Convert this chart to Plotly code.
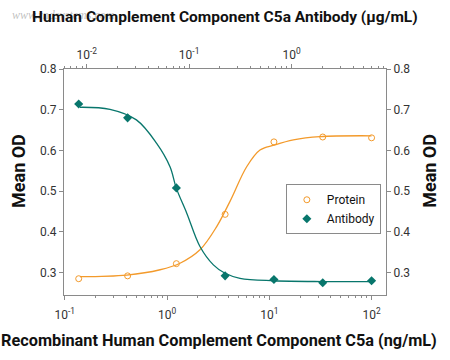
import plotly.graph_objects as go

# ---- data ----
conc_ng = [0.137, 0.412, 1.235, 3.70, 11.1, 33.3, 100.0]
protein_od = [0.285, 0.292, 0.322, 0.443, 0.621, 0.633, 0.631]
antibody_od = [0.714, 0.680, 0.508, 0.292, 0.283, 0.275, 0.280]

# fitted curves
protein_fit_x = [0.141, 0.404, 0.855, 1.34, 2.10, 3.06, 4.13, 6.01, 8.11, 11.1, 17.2, 31.3, 100.0]
protein_fit_y = [0.290, 0.294, 0.307, 0.323, 0.356, 0.413, 0.475, 0.560, 0.601, 0.613, 0.626, 0.634, 0.636]
antibody_fit_x = [0.141, 0.277, 0.502, 0.789, 1.07, 1.23, 1.56, 2.10, 2.84, 3.66, 5.17, 11.1, 33.3, 100.0]
antibody_fit_y = [0.706, 0.701, 0.675, 0.618, 0.560, 0.508, 0.446, 0.364, 0.319, 0.299, 0.286, 0.280, 0.278, 0.278]

bottom_ticks = [0.1, 1, 10, 100]
bottom_labels = ["10<sup>-1</sup>", "10<sup>0</sup>", "10<sup>1</sup>", "10<sup>2</sup>"]
top_ticks = [0.01, 0.1, 1]
top_labels = ["10<sup>-2</sup>", "10<sup>-1</sup>", "10<sup>0</sup>"]
y_ticks = [0.3, 0.4, 0.5, 0.6, 0.7, 0.8]
y_labels = ["0.3", "0.4", "0.5", "0.6", "0.7", "0.8"]

bottom_title = "Recombinant Human Complement Component C5a (ng/mL)"
top_title = "Human Complement Component C5a Antibody (μg/mL)"
y_title = "Mean OD"

ORANGE = "#F39A2B"
TEAL = "#08766C"
AXIS = "#8a8a8a"
FONT = "Roboto, Liberation Sans, sans-serif"

def minor_vals(lo, hi):
    out = []
    for e in range(lo, hi + 1):
        for m in range(2, 10):
            out.append(m * 10.0 ** e)
    return out

fig = go.Figure()
fig.add_trace(go.Scatter(x=protein_fit_x, y=protein_fit_y, mode="lines",
                         line=dict(color=ORANGE, width=1.3, shape="spline"),
                         showlegend=False, hoverinfo="skip"))
fig.add_trace(go.Scatter(x=antibody_fit_x, y=antibody_fit_y, mode="lines",
                         line=dict(color=TEAL, width=1.3, shape="spline"),
                         showlegend=False, hoverinfo="skip"))
fig.add_trace(go.Scatter(x=conc_ng, y=protein_od, mode="markers", name="Protein",
                         marker=dict(symbol="circle-open", size=6, color=ORANGE,
                                     line=dict(width=1, color=ORANGE))))
fig.add_trace(go.Scatter(x=conc_ng, y=antibody_od, mode="markers", name="Antibody",
                         marker=dict(symbol="diamond", size=7, color=TEAL)))
# dummy trace to carry the top / right axes
fig.add_trace(go.Scatter(x=[None], y=[None], xaxis="x2", yaxis="y2",
                         showlegend=False, hoverinfo="skip"))

tickfont = dict(family=FONT, size=12, color="#333333")
common = dict(ticks="outside", ticklen=4, tickcolor=AXIS, showline=True, linecolor=AXIS,
              linewidth=1, showgrid=False, zeroline=False, tickfont=tickfont, automargin=False)

fig.update_layout(
    width=450, height=360,
    margin=dict(l=64, r=64, t=69, b=65),
    paper_bgcolor="white", plot_bgcolor="white",
    font=dict(family=FONT, color="#222222"),
    xaxis=dict(type="log", range=[-1.007, 2.141], tickvals=bottom_ticks, ticktext=bottom_labels,
               ticklabelstandoff=5,
               minor=dict(tickvals=minor_vals(-1, 2), ticks="outside", ticklen=2,
                          tickcolor=AXIS, showgrid=False), **common),
    xaxis2=dict(type="log", range=[-2.222, 0.923], overlaying="x", side="top",
                tickvals=top_ticks, ticktext=top_labels,
                minor=dict(tickvals=minor_vals(-3, 0), ticks="outside", ticklen=2,
                           tickcolor=AXIS, showgrid=False), **common),
    yaxis=dict(range=[0.245, 0.8], tickvals=y_ticks, ticktext=y_labels, **common),
    yaxis2=dict(range=[0.245, 0.8], overlaying="y", side="right", tickvals=y_ticks,
                ticktext=y_labels, **common),
    legend=dict(x=0.689, y=0.49, xanchor="left", yanchor="top", bgcolor="white",
                bordercolor=AXIS, borderwidth=1, font=dict(family=FONT, size=12, color="#111111"),
                tracegroupgap=0, itemwidth=30),
    annotations=[
        dict(text="<i>www.rndsystems.com</i>", xref="paper", yref="paper",
             x=-0.168, y=1.239, xanchor="left", yanchor="middle", showarrow=False,
             font=dict(family="Liberation Serif, serif", size=12, color="rgba(140,140,140,0.55)")),
        dict(text="<b>" + top_title + "</b>", xref="paper", yref="paper",
             x=0.5, y=1.23, xanchor="center", yanchor="middle", showarrow=False,
             font=dict(family=FONT, size=15.5, color="#111111")),
        dict(text="<b>" + bottom_title + "</b>", xref="paper", yref="paper",
             x=0.48, y=-0.2, xanchor="center", yanchor="middle", showarrow=False,
             font=dict(family=FONT, size=16.3, color="#111111")),
        dict(text="<b>" + y_title + "</b>", xref="paper", yref="paper", textangle=-90,
             x=-0.142, y=0.55, xanchor="center", yanchor="middle", showarrow=False,
             font=dict(family=FONT, size=18, color="#111111")),
        dict(text="<b>" + y_title + "</b>", xref="paper", yref="paper", textangle=-90,
             x=1.137, y=0.55, xanchor="center", yanchor="middle", showarrow=False,
             font=dict(family=FONT, size=18, color="#111111")),
    ],
)

fig.write_html(
    "out.html",
    config={"displayModeBar": False},
    post_script="document.body.style.margin='0px';document.body.style.overflow='hidden';"
                "document.documentElement.style.overflow='hidden';",
)
